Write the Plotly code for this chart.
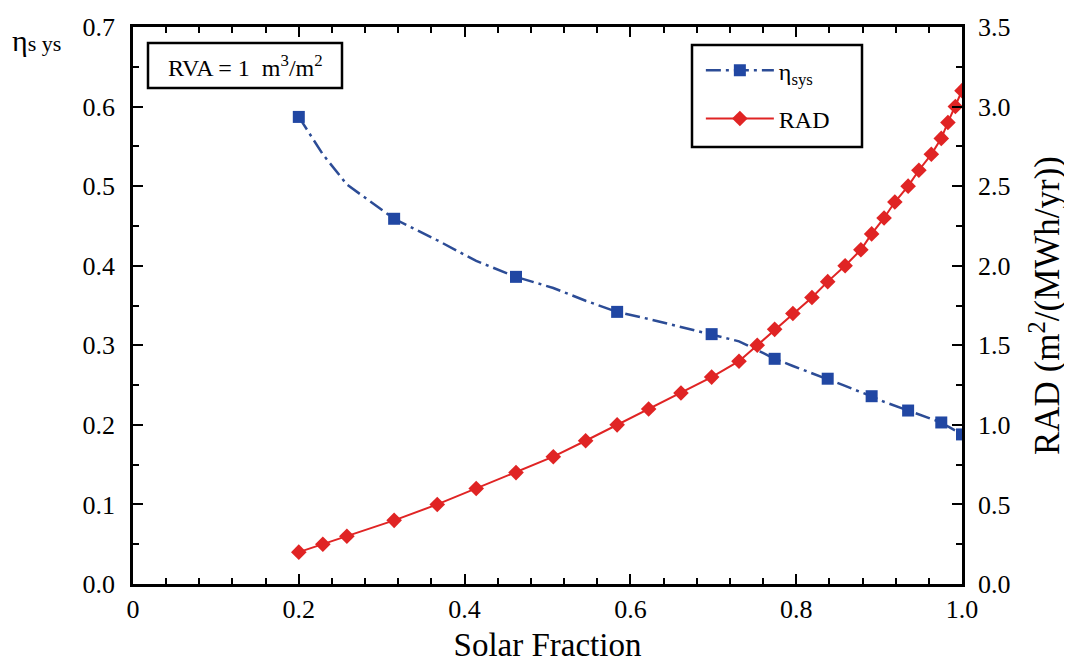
import plotly.graph_objects as go

# ---- data ----
solar_fraction = [0.200, 0.229, 0.258, 0.315, 0.367, 0.414, 0.462, 0.507, 0.546, 0.584,
                  0.622, 0.661, 0.698, 0.731, 0.753, 0.774, 0.796, 0.819, 0.838, 0.859,
                  0.878, 0.891, 0.906, 0.919, 0.935, 0.948, 0.963, 0.975, 0.983, 0.992, 1.000]
rad = [0.2, 0.25, 0.3, 0.4, 0.5, 0.6, 0.7, 0.8, 0.9, 1.0,
       1.1, 1.2, 1.3, 1.4, 1.5, 1.6, 1.7, 1.8, 1.9, 2.0,
       2.1, 2.2, 2.3, 2.4, 2.5, 2.6, 2.7, 2.8, 2.9, 3.0, 3.1]
eta_sys = [0.587, 0.540, 0.502, 0.459, 0.432, 0.406, 0.386, 0.372, 0.356, 0.342,
           0.333, 0.323, 0.314, 0.305, 0.294, 0.283, 0.274, 0.265, 0.258, 0.249,
           0.241, 0.236, 0.229, 0.224, 0.218, 0.213, 0.208, 0.203, 0.198, 0.193, 0.188]
marker_step = 3  # eta markers drawn on every third point

x_tickvals = [0, 0.2, 0.4, 0.6, 0.8, 1.0]
x_ticktext = ["0", "0.2", "0.4", "0.6", "0.8", "1.0"]

FONT = "Liberation Serif, Times New Roman, serif"
BLUE_LINE = "#2c4c96"
BLUE = "#2147a3"
RED = "#e02424"
DASH = "15px,5px,3px,5px"

fig = go.Figure()

fig.add_trace(go.Scatter(x=solar_fraction, y=eta_sys, mode="lines",
                         line=dict(color=BLUE_LINE, width=2.5, dash=DASH),
                         showlegend=False, yaxis="y"))
fig.add_trace(go.Scatter(x=solar_fraction[::marker_step], y=eta_sys[::marker_step], mode="markers",
                         marker=dict(symbol="square", size=12, color=BLUE),
                         showlegend=False, yaxis="y"))
fig.add_trace(go.Scatter(x=[None], y=[None], mode="lines+markers", name="η<sub>sys</sub>",
                         line=dict(color=BLUE_LINE, width=2.5, dash=DASH),
                         marker=dict(symbol="square", size=12, color=BLUE),
                         legendgroup="a", yaxis="y"))
fig.add_trace(go.Scatter(x=solar_fraction, y=rad, mode="lines+markers", name="RAD",
                         line=dict(color=RED, width=2),
                         marker=dict(symbol="diamond", size=12, color=RED),
                         legendgroup="b", yaxis="y2"))

axis_common = dict(showline=True, linecolor="black", linewidth=2.5, ticks="inside",
                   tickcolor="black", tickwidth=2, ticklen=10, showgrid=False, zeroline=False,
                   automargin=False,
                   tickfont=dict(family=FONT, size=26, color="black"))

# page body has an 8px offset; margins compensate so the plot area sits at x 133-962, y 27-584
fig.update_layout(
    width=1072, height=662,
    margin=dict(l=125, r=118, t=19, b=86),
    paper_bgcolor="white", plot_bgcolor="white",
    font=dict(family=FONT, color="black"),
    xaxis=dict(range=[0, 1.0], tickvals=x_tickvals, ticktext=x_ticktext, mirror="ticks",
               minor=dict(dtick=0.04, tick0=0, ticks="inside", ticklen=6, tickwidth=2, tickcolor="black"),
               title=dict(text="Solar Fraction", font=dict(family=FONT, size=33, color="black"), standoff=10),
               **axis_common),
    yaxis=dict(range=[0, 0.7], dtick=0.1, tick0=0, tickformat=".1f", ticklabelstandoff=10,
               minor=dict(dtick=0.05, tick0=0, ticks="inside", ticklen=6, tickwidth=2, tickcolor="black"),
               **axis_common),
    yaxis2=dict(range=[0, 3.5], dtick=0.5, tick0=0, tickformat=".1f", overlaying="y", side="right",
                ticklabelstandoff=8,
                minor=dict(dtick=0.25, tick0=0, ticks="inside", ticklen=6, tickwidth=2, tickcolor="black"),
                title=dict(text="RAD (m<sup>2</sup>/(MWh/yr))", font=dict(family=FONT, size=35, color="black"), standoff=26),
                **axis_common),
    legend=dict(x=0.685, y=0.962, xanchor="left", yanchor="top", bgcolor="rgba(0,0,0,0)",
                borderwidth=0, font=dict(family=FONT, size=24, color="black"),
                traceorder="grouped", tracegroupgap=14, itemwidth=68),
    shapes=[
        dict(type="rect", xref="paper", yref="paper",
             x0=(692 - 133) / 829, x1=(862 - 133) / 829, y0=(584 - 147) / 557, y1=(584 - 45) / 557,
             line=dict(color="black", width=2.5)),
        dict(type="rect", xref="paper", yref="paper",
             x0=(148 - 133) / 829, x1=(342 - 133) / 829, y0=(584 - 88) / 557, y1=(584 - 43) / 557,
             line=dict(color="black", width=2.5)),
    ],
    annotations=[
        dict(text="RVA = 1  m<sup>3</sup>/m<sup>2</sup>", xref="paper", yref="paper",
             x=(245 - 133) / 829, y=(584 - 66) / 557, xanchor="center", yanchor="middle",
             showarrow=False, font=dict(family=FONT, size=24, color="black")),
        dict(text="η<span style='font-size:22px'>s ys</span>", xref="paper", yref="paper",
             x=(10 - 133) / 829, y=(584 - 40) / 557, xanchor="left", yanchor="middle",
             showarrow=False, font=dict(family=FONT, size=30, color="black")),
    ],
)

fig.write_html("out.html")
